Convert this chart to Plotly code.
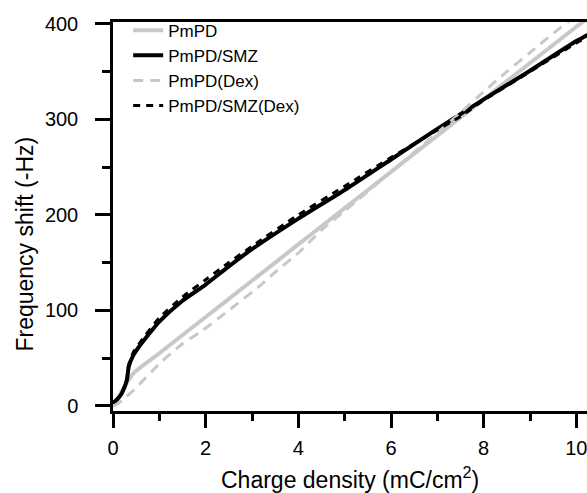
import plotly.graph_objects as go

# ---- data ----
x_pmpd = [0, 0.1, 0.2, 0.3, 0.44, 1.0, 2.0, 3.0, 4.0, 5.0, 6.0, 7.0, 8.0, 9.0, 10.0, 10.3]
y_pmpd = [2, 8, 16, 24, 34, 55, 93, 131, 169, 207, 245, 283, 321, 359, 397, 408]

x_smz = [0, 0.1, 0.19, 0.3, 0.34, 0.44, 0.55, 0.66, 1.0, 1.5, 2.0, 2.5, 3.0, 4.0, 5.0, 6.0, 7.0, 8.0, 9.0, 10.0, 10.3]
y_smz = [2, 7, 13, 27, 41, 53, 61, 68, 88, 110, 127, 146, 164, 196, 226, 258, 290, 321, 351, 382, 390]

x_pmpd_dex = [0, 0.1, 0.2, 0.44, 1.0, 1.5, 1.88, 2.5, 3.18, 3.5, 4.0, 4.5, 5.0, 6.0, 7.0, 7.5, 8.0, 8.5, 9.0, 9.5, 10.0, 10.3]
y_pmpd_dex = [0, 2, 6, 16, 44, 65, 77, 100, 126, 140, 160, 184, 204, 245, 286, 307, 329, 350, 370, 390, 409, 420]

x_smz_dex = [0, 0.1, 0.2, 0.3, 0.34, 0.44, 0.55, 0.7, 1.0, 1.5, 2.0, 2.5, 3.0, 4.0, 5.0, 6.0, 7.0, 7.5, 8.0, 9.0, 10.0, 10.3]
y_smz_dex = [3, 8, 15, 29, 43, 56, 64, 74, 92, 114, 132, 150, 167, 200, 230, 260, 289, 303, 320, 350, 380, 388]

names = ["PmPD", "PmPD/SMZ", "PmPD(Dex)", "PmPD/SMZ(Dex)"]
x_ticks = [0, 2, 4, 6, 8, 10]
y_ticks = [0, 100, 200, 300, 400]
x_title = "Charge density (mC/cm<sup>2</sup>)"
y_title = "Frequency shift (-Hz)"

GRAY = "#c8c8c8"
FONT = "Arial, Liberation Sans, sans-serif"

fig = go.Figure()
fig.add_trace(go.Scatter(x=x_pmpd, y=y_pmpd, mode="lines", name=names[0],
                         line=dict(color=GRAY, width=4, shape="spline", smoothing=0.6)))
fig.add_trace(go.Scatter(x=x_smz, y=y_smz, mode="lines", name=names[1],
                         line=dict(color="black", width=4, shape="spline", smoothing=0.6)))
fig.add_trace(go.Scatter(x=x_pmpd_dex, y=y_pmpd_dex, mode="lines", name=names[2],
                         line=dict(color=GRAY, width=3, dash="10px,7px", shape="spline", smoothing=0.6)))
fig.add_trace(go.Scatter(x=x_smz_dex, y=y_smz_dex, mode="lines", name=names[3],
                         line=dict(color="black", width=3, dash="7px,6px", shape="spline", smoothing=0.6)))

fig.update_layout(
    width=587, height=493,
    margin=dict(l=113, r=0, t=22, b=82),
    paper_bgcolor="white", plot_bgcolor="white",
    font=dict(family=FONT, color="black", size=20),
    showlegend=True,
    legend=dict(x=0.032, y=1.024, xanchor="left", yanchor="top",
                bgcolor="rgba(0,0,0,0)", font=dict(size=17, family=FONT),
                tracegroupgap=0, itemwidth=30),
    annotations=[
        dict(text=x_title, xref="paper", yref="paper", x=0.5, y=-0.173,
             xanchor="center", yanchor="middle", showarrow=False,
             font=dict(size=23, family=FONT, color="black")),
        dict(text=y_title, xref="paper", yref="paper", x=-0.186, y=0.43,
             xanchor="center", yanchor="middle", showarrow=False, textangle=-90,
             font=dict(size=23, family=FONT, color="black")),
    ],
)
fig.update_xaxes(
    range=[0, 10.23], tickvals=x_ticks, ticktext=[str(v) for v in x_ticks],
    showgrid=False, zeroline=False,
    showline=True, linecolor="black", linewidth=2.5, mirror=True,
    ticks="outside", ticklen=14, tickwidth=2.5, tickcolor="black",
    tickfont=dict(size=20), ticklabelstandoff=3, ticklabeloverflow="allow",
    minor=dict(dtick=1, tick0=0, ticks="outside", ticklen=7, tickwidth=2.5, tickcolor="black"),
)
fig.update_yaxes(
    range=[-5.5, 402], tickvals=y_ticks, ticktext=[str(v) for v in y_ticks],
    showgrid=False, zeroline=False,
    showline=True, linecolor="black", linewidth=2.5,
    ticks="outside", ticklen=15, tickwidth=2.5, tickcolor="black",
    tickfont=dict(size=20), ticklabelstandoff=13,
    minor=dict(dtick=50, tick0=0, ticks="outside", ticklen=8, tickwidth=2.5, tickcolor="black"),
)

# remove the page's default body margin so the figure fills the window exactly
fig.write_html(
    "out.html",
    config={"displayModeBar": False},
    post_script="document.body.style.margin='0';document.body.style.overflow='hidden';",
)
